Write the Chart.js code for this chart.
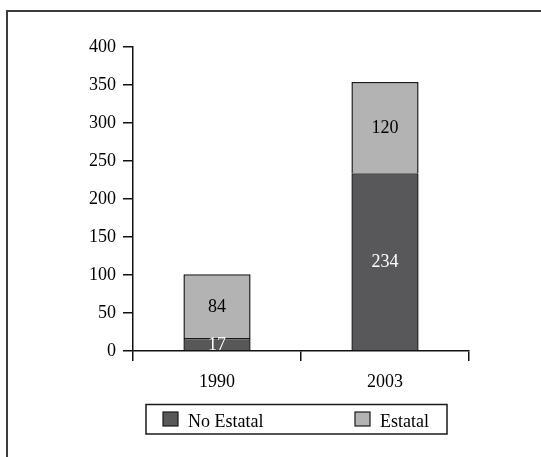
<!DOCTYPE html>
<html>
<head>
<meta charset="utf-8">
<script src="https://cdn.jsdelivr.net/npm/chart.js@4"></script>
<style>
    body { margin: 0; background: #fff; }
    #wrap { position: relative; width: 541px; height: 457px; overflow: hidden; }
    #frame { position: absolute; left: 6px; top: 10px; width: 600px; height: 500px;
             border-top: 2px solid #3c3c3c; border-left: 2px solid #3c3c3c; }
    canvas { position: absolute; left: 0; top: 0; }
</style>
</head>
<body>
<div id="wrap">
    <div id="frame"></div>
    <canvas id="chart" width="541" height="457"></canvas>
</div>
<script>
const years = ["1990", "2003"];
const noEstatal = [17, 234];
const estatal = [84, 120];
const seriesNames = ["No Estatal", "Estatal"];
const yTicks = [0, 50, 100, 150, 200, 250, 300, 350, 400];

const FONT = "'Liberation Serif', 'Times New Roman', serif";
const darkGray = "#58585a";
const lightGray = "#b3b3b3";

// value labels in the middle of each segment
const valueLabels = {
    id: "valueLabels",
    afterDatasetsDraw(chart) {
        const ctx = chart.ctx;
        ctx.save();
        ctx.font = "18px " + FONT;
        ctx.textAlign = "center";
        ctx.textBaseline = "middle";
        chart.data.datasets.forEach((ds, i) => {
            chart.getDatasetMeta(i).data.forEach((bar, j) => {
                ctx.fillStyle = ds.labelColor;
                ctx.fillText(ds.data[j], bar.x, (bar.y + bar.base) / 2 + 1);
            });
        });
        ctx.restore();
    }
};

// framed legend under the axis
const boxLegend = {
    id: "boxLegend",
    afterDraw(chart) {
        const ctx = chart.ctx;
        ctx.save();
        ctx.lineWidth = 1.5;
        ctx.strokeStyle = "#1a1a1a";
        ctx.strokeRect(146, 404.5, 301, 29.5);
        ctx.font = "18px " + FONT;
        ctx.textBaseline = "alphabetic";
        ctx.textAlign = "left";
        const itemX = [163, 355];
        chart.data.datasets.forEach((ds, i) => {
            ctx.fillStyle = ds.backgroundColor;
            ctx.fillRect(itemX[i], 412, 15, 14);
            ctx.lineWidth = 1.2;
            ctx.strokeRect(itemX[i], 412, 15, 14);
            ctx.fillStyle = "#000";
            ctx.fillText(ds.label, itemX[i] + 25, 427);
        });
        ctx.restore();
    }
};

new Chart(document.getElementById("chart"), {
    type: "bar",
    data: {
        labels: years,
        datasets: [
            {
                label: seriesNames[0],
                data: noEstatal,
                backgroundColor: darkGray,
                borderColor: "#1a1a1a",
                borderWidth: 1.5,
                labelColor: "#ffffff"
            },
            {
                label: seriesNames[1],
                data: estatal,
                backgroundColor: lightGray,
                borderColor: "#1a1a1a",
                borderWidth: 1.5,
                labelColor: "#000000"
            }
        ]
    },
    options: {
        responsive: false,
        animation: false,
        barPercentage: 0.4,
        categoryPercentage: 1,
        layout: { padding: { left: 0, right: 72, top: 47, bottom: 0 } },
        plugins: {
            legend: { display: false },
            tooltip: { enabled: false }
        },
        scales: {
            x: {
                stacked: true,
                grid: { display: true, drawOnChartArea: false, drawTicks: true, tickLength: 10, color: "#111", lineWidth: 1.5 },
                border: { display: true, color: "#111", width: 1.5 },
                ticks: { color: "#000", font: { family: FONT, size: 18 }, padding: 10 },
                afterFit(scale) { scale.height = 106; }
            },
            y: {
                stacked: true,
                min: 0,
                max: 400,
                afterBuildTicks(scale) { scale.ticks = yTicks.map(v => ({ value: v })); },
                grid: { display: true, drawOnChartArea: false, drawTicks: true, tickLength: 10, color: "#111", lineWidth: 1.5 },
                border: { display: true, color: "#111", width: 1.5 },
                ticks: { color: "#000", font: { family: FONT, size: 18 }, padding: 7 },
                afterFit(scale) { scale.width = 133; }
            }
        }
    },
    plugins: [valueLabels, boxLegend]
});
</script>
</body>
</html>
